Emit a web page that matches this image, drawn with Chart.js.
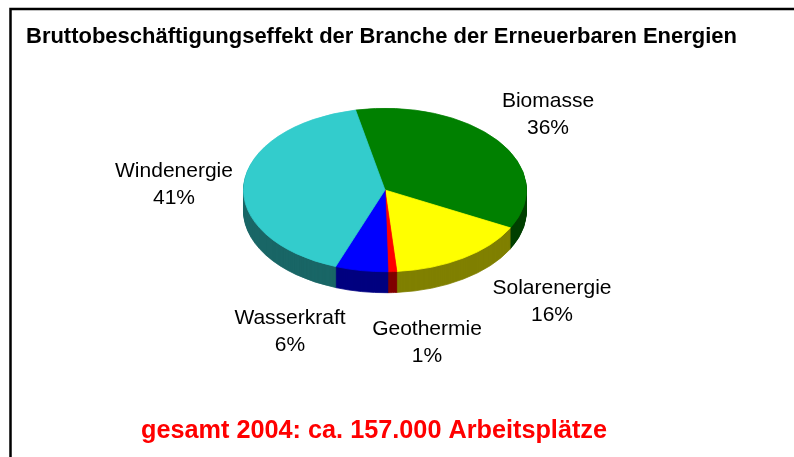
<!DOCTYPE html>
<html><head><meta charset="utf-8">
<style>html,body{margin:0;padding:0;background:#fff}canvas{display:block}</style>
<script src="https://cdn.jsdelivr.net/npm/chart.js@4"></script></head>
<body><canvas id="c" width="794" height="457" style="width:794px;height:457px"></canvas>
<script>
const categories = ['Biomasse','Solarenergie','Geothermie','Wasserkraft','Windenergie'];
const shares = [36,16,1,6,41];
const topColors = ['#008000','#ffff00','#ff0000','#0000ff','#33cccc'];
const sideColors = ['#004000','#808000','#800000','#000080','#196666'];
const chartTitle = 'Bruttobeschäftigungseffekt der Branche der Erneuerbaren Energien';
const footerText = 'gesamt 2004: ca. 157.000 Arbeitsplätze';

const labelAnchors = [[548,101],[552,288],[427,329],[290,318],[174,171]];
const RX = 142, RY = 82, DEPTH = 21;

function tilt(ctx, cy, d){
  ctx.translate(0, cy + d);
  ctx.scale(1, RY / RX);
  ctx.translate(0, -cy);
}

const pie3d = {
  id:'pie3d',
  beforeDatasetDraw(chart){
    const ctx = chart.ctx, arcs = chart.getDatasetMeta(0).data, cy = arcs[0].y;
    for (let d = DEPTH; d >= 1; d--){
      ctx.save();
      tilt(ctx, cy, d);
      arcs.forEach((el,i)=>{
        const o = el.options;
        el.options = {backgroundColor:sideColors[i],borderColor:sideColors[i],borderWidth:1,
          borderAlign:'center',borderJoinStyle:'round',borderRadius:0,spacing:0,offset:0,circular:true};
        el.draw(ctx);
        el.options = o;
      });
      ctx.restore();
    }
    ctx.save();
    tilt(ctx, cy, 0);
    chart.$tilted = true;
  },
  afterDatasetDraw(chart){
    if (chart.$tilted){ chart.ctx.restore(); chart.$tilted = false; }
  },
  afterDraw(chart){
    const ctx = chart.ctx;
    ctx.save();
    ctx.strokeStyle = '#000'; ctx.lineWidth = 2.5;
    ctx.beginPath(); ctx.moveTo(10.5,457); ctx.lineTo(10.5,9); ctx.lineTo(794,9); ctx.stroke();
    ctx.textBaseline = 'middle'; ctx.textAlign = 'left';
    ctx.fillStyle = '#000'; ctx.font = 'bold 22px "Liberation Sans"';
    ctx.fillText(chartTitle, 26, 37, 711);
    ctx.textAlign = 'center';
    ctx.fillStyle = '#ff0000'; ctx.font = 'bold 26px "Liberation Sans"';
    ctx.fillText(footerText, 374, 431, 466);
    ctx.fillStyle = '#000'; ctx.font = '21px "Liberation Sans"';
    categories.forEach((name,i)=>{
      const [x,y] = labelAnchors[i];
      ctx.fillText(name, x, y);
      ctx.fillText(shares[i] + '%', x, y + 27);
    });
    ctx.restore();
  }
};

new Chart(document.getElementById('c'), {
  type:'pie',
  data:{labels:categories,datasets:[{data:shares,backgroundColor:topColors,borderColor:topColors,borderWidth:1,borderAlign:'center'}]},
  plugins:[pie3d],
  options:{
    responsive:false,animation:false,rotation:-12,
    layout:{padding:{left:243,right:267,top:48,bottom:125}},
    plugins:{legend:{display:false},tooltip:{enabled:false}}
  }
});
</script></body></html>
